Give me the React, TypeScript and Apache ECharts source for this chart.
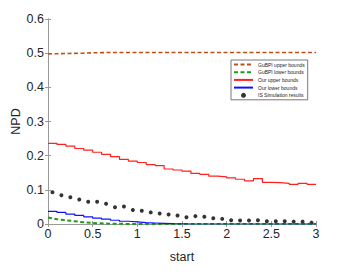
import React, { useEffect, useRef } from "react";
import * as echarts from "echarts";

const stepX = [0, 0.1, 0.2, 0.3, 0.4, 0.5, 0.6, 0.7, 0.8, 0.9, 1.0, 1.1, 1.2, 1.3, 1.4, 1.5, 1.6, 1.7, 1.8, 1.9, 2.0, 2.1, 2.2, 2.3, 2.4, 2.5, 2.6, 2.7, 2.8, 2.9, 3.0];
const gubpiUpper = [0.498, 0.4985, 0.499, 0.4995, 0.5, 0.501, 0.5015, 0.502, 0.502, 0.502, 0.502, 0.502, 0.502, 0.502, 0.502, 0.502, 0.502, 0.502, 0.502, 0.502, 0.502, 0.502, 0.502, 0.502, 0.502, 0.502, 0.502, 0.502, 0.502, 0.502, 0.502];
const gubpiLower = [0.019, 0.014, 0.011, 0.008, 0.005, 0.003, 0.002, 0.001, 0.0005, 0.0003, 0.0002, 0.0001, 0, 0, 0, 0, 0, 0, 0, 0, 0, 0, 0, 0, 0, 0, 0, 0, 0, 0, 0];
const ourUpper = [0.236, 0.233, 0.228, 0.221, 0.216, 0.21, 0.204, 0.197, 0.189, 0.184, 0.18, 0.174, 0.171, 0.161, 0.158, 0.155, 0.148, 0.145, 0.14, 0.138, 0.135, 0.131, 0.126, 0.133, 0.122, 0.121, 0.119, 0.116, 0.119, 0.116, 0.116];
const ourLower = [0.037, 0.034, 0.029, 0.025, 0.021, 0.017, 0.014, 0.011, 0.008, 0.006, 0.004, 0.003, 0.002, 0.001, 0.0005, 0, 0, 0, 0, 0, 0, 0, 0, 0, 0, 0, 0, 0, 0, 0, 0];
const simX = [0.05, 0.15, 0.25, 0.35, 0.45, 0.55, 0.65, 0.75, 0.85, 0.95, 1.05, 1.15, 1.25, 1.35, 1.45, 1.55, 1.65, 1.75, 1.85, 1.95, 2.05, 2.15, 2.25, 2.35, 2.45, 2.55, 2.65, 2.75, 2.85, 2.95];
const simY = [0.093, 0.084, 0.078, 0.072, 0.065, 0.065, 0.059, 0.049, 0.051, 0.041, 0.039, 0.034, 0.031, 0.028, 0.025, 0.02, 0.023, 0.021, 0.017, 0.015, 0.011, 0.01, 0.01, 0.011, 0.008, 0.008, 0.008, 0.007, 0.007, 0.004];
const seriesNames = ["GuBPI upper bounds", "GuBPI lower bounds", "Our upper bounds", "Our lower bounds", "IS Simulation results"];

const pair = (xs: number[], ys: number[]) => xs.map((x, i) => [x, ys[i]]);

export default function App() {
  const ref = useRef<HTMLDivElement>(null);
  useEffect(() => {
    if (!ref.current) return;
    const chart = echarts.init(ref.current, null, { renderer: "svg" });
    const axisColor = "#9a9a9a";
    const font = "Liberation Sans, Arial, Helvetica, sans-serif";
    const sideAxis = {
      type: "value",
      axisLine: { show: true, lineStyle: { color: axisColor, width: 1 } },
      axisTick: { show: true, inside: true, length: 3, lineStyle: { color: axisColor } },
      axisLabel: { show: false },
      splitLine: { show: false },
    };
    chart.setOption({
      animation: false,
      backgroundColor: "#ffffff",
      grid: { left: 48, top: 19, right: 30, bottom: 53, containLabel: false, outerBoundsMode: "none" },
      legend: {
        orient: "vertical",
        left: 231,
        top: 60,
        padding: [2, 3, 2, 2],
        itemGap: 2.7,
        itemWidth: 19,
        itemHeight: 5,
        itemTextGap: 1,
        backgroundColor: "#ffffff",
        borderColor: "#555555",
        borderWidth: 0.8,
        borderRadius: 0,
        textStyle: { fontSize: 5, color: "#222", fontFamily: font },
        data: seriesNames.map((n, i) =>
          i < 4 ? { name: n, itemStyle: { opacity: 0 } } : { name: n, icon: "circle" }
        ),
      },
      xAxis: [
        {
          type: "value",
          min: 0,
          max: 3,
          interval: 0.5,
          name: "start",
          nameLocation: "middle",
          nameGap: 26,
          nameMoveOverlap: false,
          nameTextStyle: { fontSize: 12.5, color: "#262626", fontFamily: font },
          axisLine: { show: true, onZero: false, lineStyle: { color: axisColor, width: 1 } },
          axisTick: { show: true, inside: true, length: 3, lineStyle: { color: axisColor } },
          axisLabel: { fontSize: 12.5, color: "#262626", margin: 3, fontFamily: font },
          splitLine: { show: false },
        },
        { ...sideAxis, min: 0, max: 3, interval: 0.5, position: "top" },
      ],
      yAxis: [
        {
          type: "value",
          min: 0,
          max: 0.6,
          interval: 0.1,
          name: "NPD",
          nameLocation: "middle",
          nameGap: 26,
          nameMoveOverlap: false,
          nameTextStyle: { fontSize: 12.5, color: "#262626", fontFamily: font },
          axisLine: { show: true, onZero: false, lineStyle: { color: axisColor, width: 1 } },
          axisTick: { show: true, inside: true, length: 3, lineStyle: { color: axisColor } },
          axisLabel: { fontSize: 12.5, color: "#262626", margin: 4, fontFamily: font },
          splitLine: { show: false },
        },
        { ...sideAxis, min: 0, max: 0.6, interval: 0.1, position: "right" },
      ],
      series: [
        {
          name: seriesNames[0],
          type: "line",
          data: pair(stepX, gubpiUpper),
          symbol: "none",
          lineStyle: { color: "#c0501a", width: 1.6, type: [4, 2.5] },
          itemStyle: { color: "#c0501a" },
        },
        {
          name: seriesNames[1],
          type: "line",
          data: pair(stepX, gubpiLower),
          symbol: "none",
          lineStyle: { color: "#1f9a1f", width: 2, type: [4, 2.5] },
          itemStyle: { color: "#1f9a1f" },
        },
        {
          name: seriesNames[2],
          type: "line",
          step: "end",
          data: pair(stepX, ourUpper),
          symbol: "none",
          lineStyle: { color: "#ff2020", width: 1.2 },
          itemStyle: { color: "#ff2020" },
        },
        {
          name: seriesNames[3],
          type: "line",
          step: "end",
          data: pair(stepX, ourLower),
          symbol: "none",
          lineStyle: { color: "#1010ff", width: 1.2 },
          itemStyle: { color: "#1010ff" },
        },
        {
          name: seriesNames[4],
          type: "scatter",
          data: pair(simX, simY),
          symbol: "circle",
          symbolSize: 4,
          itemStyle: { color: "#000000" },
        },
      ],
    });
    return () => chart.dispose();
  }, []);
  return (
    <div
      ref={ref}
      style={{ position: "absolute", left: 0, top: 0, width: 346, height: 277 }}
    />
  );
}
